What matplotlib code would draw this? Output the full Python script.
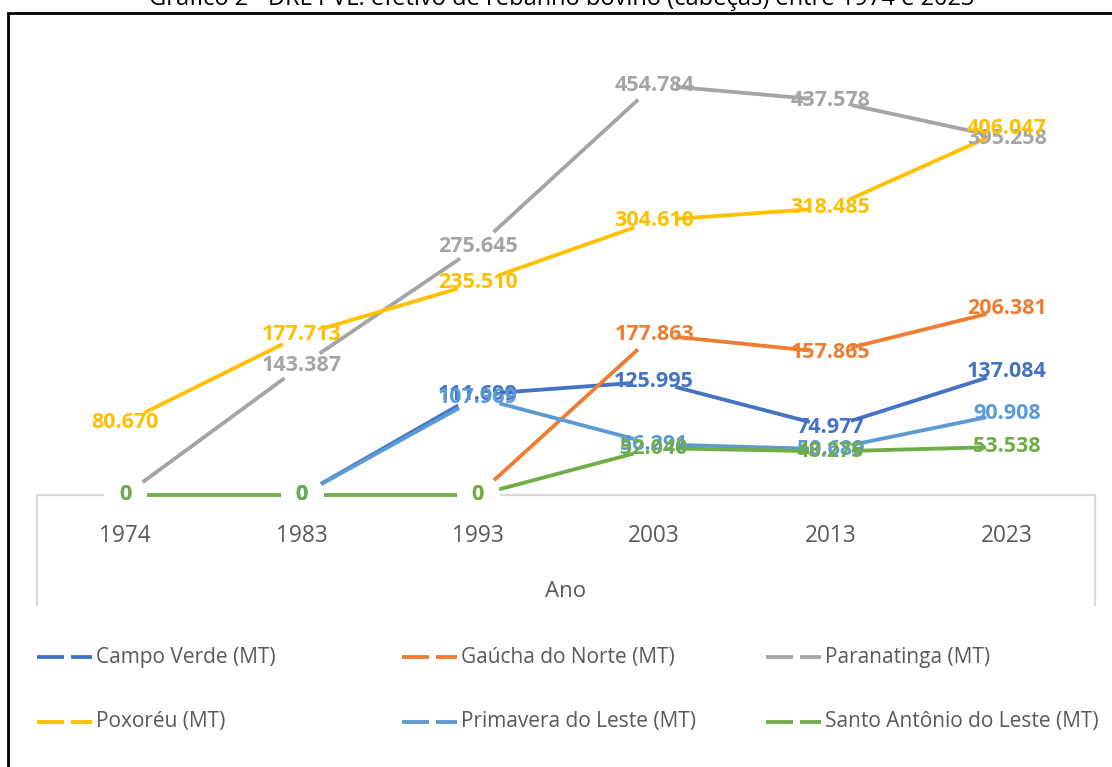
import numpy as np
import matplotlib
matplotlib.use("Agg")
import matplotlib.pyplot as plt
from matplotlib.lines import Line2D
from matplotlib.patches import Rectangle

plt.rcParams['font.family'] = ['Open Sans', 'DejaVu Sans']

years = ['1974', '1983', '1993', '2003', '2013', '2023']
nan = np.nan
campo_verde = [nan, 0, 111699, 125995, 74977, 137084]
gaucha_norte = [nan, nan, 0, 177863, 157865, 206381]
paranatinga = [0, 143387, 275645, 454784, 437578, 395258]
poxoreu = [80670, 177713, 235510, 304610, 318485, 406047]
primavera = [nan, 0, 107969, 56291, 50689, 90908]
santo_antonio = [0, 0, 0, 52040, 48275, 53538]

names = ['Campo Verde (MT)', 'Gaúcha do Norte (MT)', 'Paranatinga (MT)',
         'Poxoréu (MT)', 'Primavera do Leste (MT)', 'Santo Antônio do Leste (MT)']
series = [campo_verde, gaucha_norte, paranatinga, poxoreu, primavera, santo_antonio]
colors = ['#4472C4', '#ED7D31', '#A5A5A5', '#FFC000', '#5B9BD5', '#70AD47']

W, H = 1112, 767
fig = plt.figure(figsize=(W / 100, H / 100), dpi=100)

# frame (partially outside the picture)
fig.patches.append(Rectangle((8 / W, -0.1), 1.2, 1 - 13 / H + 0.1, transform=fig.transFigure,
                             fill=False, edgecolor='black', linewidth=2.0))
# title, cut by the top edge
fig.text(0.505, 1 - 5 / H, 'Gráfico 2 - DRL PVL: efetivo de rebanho bovino (cabeças) entre 1974 e 2023',
         ha='center', va='baseline', fontsize=17, color='black')

ax_left, ax_right = 37, 1095
ax_bottom_px, ax_top_px = 495, 495 - 450.75
ax = fig.add_axes([ax_left / W, 1 - ax_bottom_px / H, (ax_right - ax_left) / W,
                   (ax_bottom_px - ax_top_px) / H])
ax.set_xlim(-0.5, 5.5)
ax.set_ylim(0, 500000)
for s in ['top', 'left', 'right']:
    ax.spines[s].set_visible(False)
ax.spines['bottom'].set_color('#D9D9D9')
ax.spines['bottom'].set_linewidth(1.6)
ax.set_yticks([])
x = np.arange(len(years))
ax.set_xticks(x)
ax.set_xticklabels(years, fontsize=16.3, color='#595959')
ax.tick_params(axis='x', length=0, pad=21)

trans = ax.get_xaxis_transform()
for xv in (-0.5, 5.5):
    ax.plot([xv, xv], [0, -0.244], transform=trans, color='#D9D9D9', lw=1.6,
            clip_on=False, zorder=1)
ax.text(0.5, -0.213, 'Ano', transform=ax.transAxes, ha='center', va='center',
        fontsize=16, color='#595959')

for vals, c in zip(series, colors):
    ax.plot(x, vals, color=c, lw=2.75, marker='o', markersize=31,
            markerfacecolor='white', markeredgewidth=0, clip_on=False, zorder=3)

for vals, c in zip(series, colors):
    for xi, v in zip(x, vals):
        if np.isnan(v):
            continue
        lab = f"{int(v):,}".replace(",", ".")
        ax.text(xi, v, lab, ha='center', va='center', fontsize=15.5, fontweight='bold',
                color=c, zorder=10, clip_on=False)

# legend
col_x = [37, 402, 766]
row_y = [657, 722]
for i, (name, c) in enumerate(zip(names, colors)):
    x0 = col_x[i % 3]
    yy = 1 - row_y[i // 3] / H
    for a, b in ((x0, x0 + 27), (x0 + 34, x0 + 55)):
        fig.add_artist(Line2D([a / W, b / W], [yy, yy], color=c, lw=2.75,
                              transform=fig.transFigure, solid_capstyle='butt'))
    fig.text((x0 + 59) / W, yy, name, ha='left', va='center', fontsize=15, color='#595959')

fig.savefig('out.png', dpi=100)
